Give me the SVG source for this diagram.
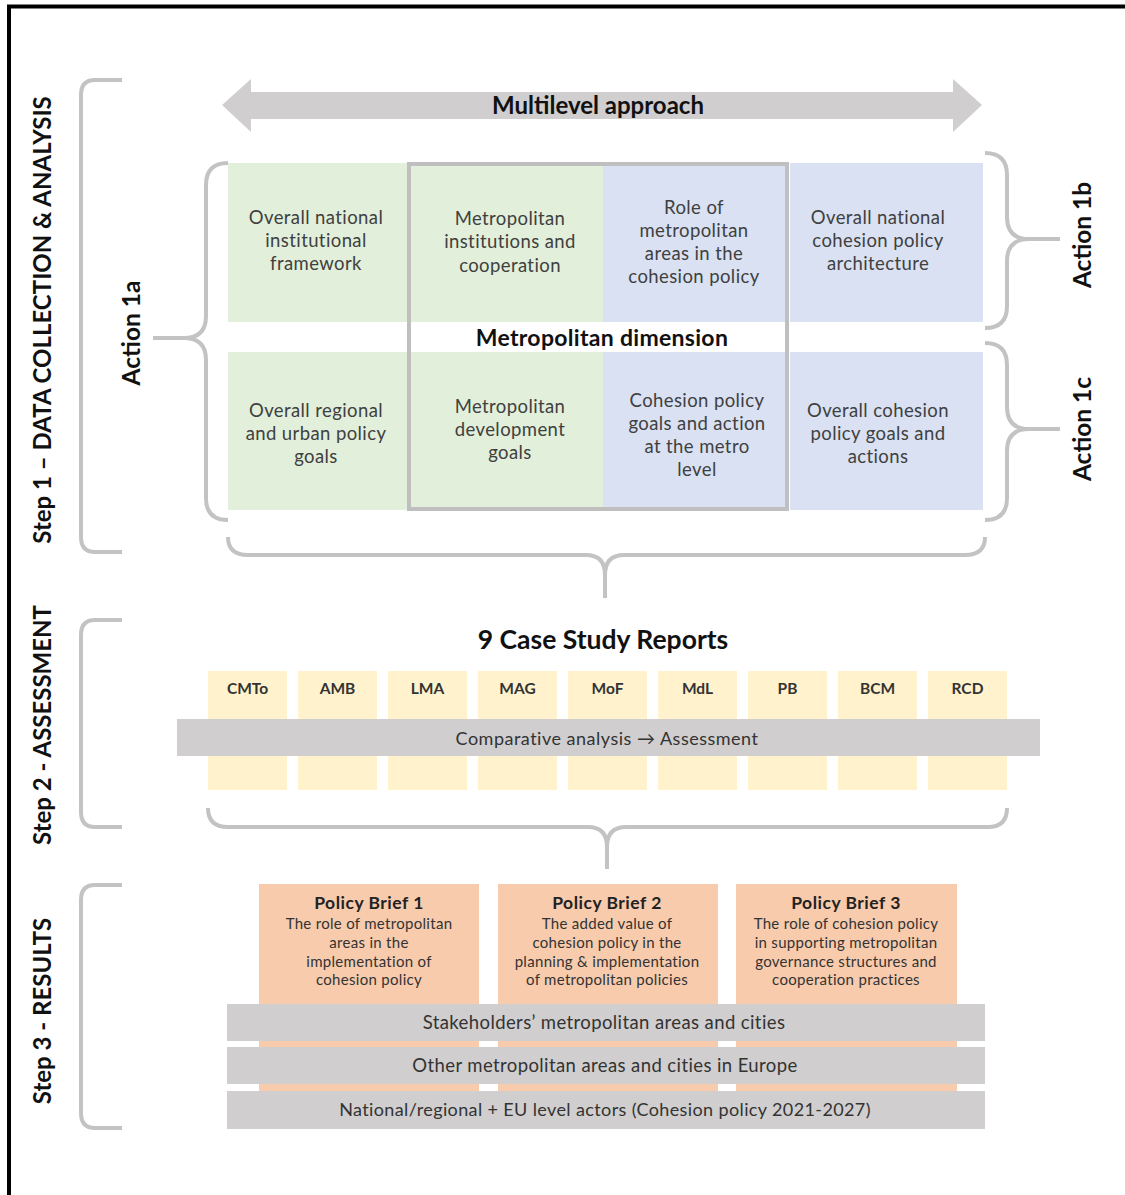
<svg xmlns="http://www.w3.org/2000/svg" width="1125" height="1195" viewBox="0 0 1125 1195">
<style>
text{font-family:Lato,"Liberation Sans",Arial,sans-serif;}
.cell{font-size:18.5px;letter-spacing:0.4px;fill:#404040;text-anchor:middle;}
.step{font-size:24px;font-weight:bold;fill:#111;text-anchor:middle;}
.act{font-size:24.5px;font-weight:bold;fill:#111;text-anchor:middle;}
.case{font-size:15.5px;font-weight:bold;fill:#333;text-anchor:middle;}
.pbt{font-size:17.5px;letter-spacing:0.5px;font-weight:bold;fill:#222;text-anchor:middle;}
.pbs{font-size:15px;letter-spacing:0.3px;fill:#333;text-anchor:middle;}
.bar{font-size:18.5px;letter-spacing:0.4px;fill:#333;text-anchor:middle;}
.brace{fill:none;stroke:#c3c3c3;stroke-width:4;stroke-linecap:butt;}
.green{fill:#e2efda;}
.blue{fill:#d9e1f2;}
.yel{fill:#fff2cc;}
.org{fill:#f8cbad;}
.gray{fill:#d0cece;}
</style>
<rect x="0" y="0" width="1125" height="1195" fill="#ffffff"/>
<path d="M9,1200 L9,6.5 L1130,6.5" fill="none" stroke="#000" stroke-width="4"/>

<g id="connectors">
  <path class="brace" d="M122,80 L95,80 Q81,80 81,95 L81,537 Q81,552 95,552 L122,552"/>
  <path class="brace" d="M122,620 L95,620 Q81,620 81,635 L81,812 Q81,827 95,827 L122,827"/>
  <path class="brace" d="M122,885 L95,885 Q81,885 81,900 L81,1113 Q81,1128 95,1128 L122,1128"/>
  <path class="brace" d="M228,163 Q206,163 206,185 L206,316 Q206,338 184,338 L153,338 M184,338 Q206,338 206,360 L206,498 Q206,520 228,520"/>
  <path class="brace" d="M985,153 Q1007,153 1007,175 L1007,217 Q1007,239 1029,239 L1060,239 M1029,239 Q1007,239 1007,261 L1007,306 Q1007,328 985,328"/>
  <path class="brace" d="M985,343 Q1007,343 1007,365 L1007,407 Q1007,429 1029,429 L1060,429 M1029,429 Q1007,429 1007,451 L1007,498 Q1007,520 985,520"/>
  <path class="brace" d="M228,537 Q228,555 248,555 L586,555 Q605,555 605,575 L605,598 M605,575 Q605,555 624,555 L965,555 Q985,555 985,537"/>
  <path class="brace" d="M208,808 Q208,827 228,827 L588,827 Q607,827 607,847 L607,869 M607,847 Q607,827 626,827 L988,827 Q1007,827 1007,808"/>
</g>

<g id="labels">
  <text class="step" transform="translate(51,320) rotate(-90)">Step 1 – DATA COLLECTION &amp; ANALYSIS</text>
  <text class="step" transform="translate(51,725) rotate(-90)">Step 2 - ASSESSMENT</text>
  <text class="step" transform="translate(51,1011) rotate(-90)">Step 3 - RESULTS</text>
  <text class="act" transform="translate(140,333) rotate(-90)">Action 1a</text>
  <text class="act" transform="translate(1091,235) rotate(-90)">Action 1b</text>
  <text class="act" transform="translate(1091,429) rotate(-90)">Action 1c</text>
</g>

<g id="arrow-multilevel">
  <polygon class="gray" points="222,105 251,79 251,92 953,92 953,79 982,105 953,132 953,119 251,119 251,132"/>
  <text x="598" y="114" font-size="24" font-weight="bold" fill="#111" text-anchor="middle">Multilevel approach</text>
</g>

<g id="cell-national-institutional">
  <rect class="green" x="228" y="163" width="179" height="159"/>
  <text class="cell"><tspan x="316" y="224">Overall national</tspan><tspan x="316" y="247">institutional</tspan><tspan x="316" y="270">framework</tspan></text>
</g>
<g id="cell-metro-institutions">
  <rect class="green" x="407" y="163" width="196" height="159"/>
  <text class="cell"><tspan x="510" y="225">Metropolitan</tspan><tspan x="510" y="248">institutions and</tspan><tspan x="510" y="272">cooperation</tspan></text>
</g>
<g id="cell-role-metro">
  <rect class="blue" x="603" y="163" width="185" height="159"/>
  <text class="cell"><tspan x="694" y="214">Role of</tspan><tspan x="694" y="237">metropolitan</tspan><tspan x="694" y="260">areas in the</tspan><tspan x="694" y="283">cohesion policy</tspan></text>
</g>
<g id="cell-national-cohesion">
  <rect class="blue" x="790" y="163" width="193" height="159"/>
  <text class="cell"><tspan x="878" y="224">Overall national</tspan><tspan x="878" y="247">cohesion policy</tspan><tspan x="878" y="270">architecture</tspan></text>
</g>
<g id="cell-regional-urban">
  <rect class="green" x="228" y="352" width="179" height="158"/>
  <text class="cell"><tspan x="316" y="417">Overall regional</tspan><tspan x="316" y="440">and urban policy</tspan><tspan x="316" y="463">goals</tspan></text>
</g>
<g id="cell-metro-development">
  <rect class="green" x="407" y="352" width="196" height="158"/>
  <text class="cell"><tspan x="510" y="413">Metropolitan</tspan><tspan x="510" y="436">development</tspan><tspan x="510" y="459">goals</tspan></text>
</g>
<g id="cell-cohesion-metro">
  <rect class="blue" x="603" y="352" width="185" height="158"/>
  <text class="cell"><tspan x="697" y="407">Cohesion policy</tspan><tspan x="697" y="430">goals and action</tspan><tspan x="697" y="453">at the  metro</tspan><tspan x="697" y="476">level</tspan></text>
</g>
<g id="cell-cohesion-goals">
  <rect class="blue" x="790" y="352" width="193" height="158"/>
  <text class="cell"><tspan x="878" y="417">Overall cohesion</tspan><tspan x="878" y="440">policy goals and</tspan><tspan x="878" y="463">actions</tspan></text>
</g>
<g id="metropolitan-dimension">
  <rect x="409" y="164" width="378" height="345" fill="none" stroke="#bfbfbf" stroke-width="4"/>
  <text x="602" y="346" font-size="23" letter-spacing="0.3" font-weight="bold" fill="#111" text-anchor="middle">Metropolitan dimension</text>
</g>

<g id="case-studies">
  <text x="603" y="649" font-size="26.5" font-weight="bold" fill="#111" text-anchor="middle">9 Case Study Reports</text>
  <g id="case-CMTo"><rect class="yel" x="208" y="671" width="79" height="119"/><text class="case" x="247.5" y="694">CMTo</text></g>
  <g id="case-AMB"><rect class="yel" x="298" y="671" width="79" height="119"/><text class="case" x="337.5" y="694">AMB</text></g>
  <g id="case-LMA"><rect class="yel" x="388" y="671" width="79" height="119"/><text class="case" x="427.5" y="694">LMA</text></g>
  <g id="case-MAG"><rect class="yel" x="478" y="671" width="79" height="119"/><text class="case" x="517.5" y="694">MAG</text></g>
  <g id="case-MoF"><rect class="yel" x="568" y="671" width="79" height="119"/><text class="case" x="607.5" y="694">MoF</text></g>
  <g id="case-MdL"><rect class="yel" x="658" y="671" width="79" height="119"/><text class="case" x="697.5" y="694">MdL</text></g>
  <g id="case-PB"><rect class="yel" x="748" y="671" width="79" height="119"/><text class="case" x="787.5" y="694">PB</text></g>
  <g id="case-BCM"><rect class="yel" x="838" y="671" width="79" height="119"/><text class="case" x="877.5" y="694">BCM</text></g>
  <g id="case-RCD"><rect class="yel" x="928" y="671" width="79" height="119"/><text class="case" x="967.5" y="694">RCD</text></g>
</g>
<g id="comparative-analysis">
  <rect class="gray" x="177" y="719" width="863" height="37"/>
  <text x="607" y="745" font-size="18" letter-spacing="0.5" fill="#333" text-anchor="middle">Comparative analysis → Assessment</text>
</g>

<g id="policy-brief-1">
  <rect class="org" x="259" y="884" width="220" height="207"/>
  <text class="pbt" x="369" y="909">Policy Brief 1</text>
  <text class="pbs"><tspan x="369" y="929">The role of metropolitan</tspan><tspan x="369" y="948">areas in the</tspan><tspan x="369" y="967">implementation of</tspan><tspan x="369" y="985">cohesion policy</tspan></text>
</g>
<g id="policy-brief-2">
  <rect class="org" x="498" y="884" width="220" height="207"/>
  <text class="pbt" x="607" y="909">Policy Brief 2</text>
  <text class="pbs"><tspan x="607" y="929">The added value of</tspan><tspan x="607" y="948">cohesion policy in the</tspan><tspan x="607" y="967">planning &amp; implementation</tspan><tspan x="607" y="985">of metropolitan policies</tspan></text>
</g>
<g id="policy-brief-3">
  <rect class="org" x="736" y="884" width="221" height="207"/>
  <text class="pbt" x="846" y="909">Policy Brief 3</text>
  <text class="pbs"><tspan x="846" y="929">The role of cohesion policy</tspan><tspan x="846" y="948">in supporting metropolitan</tspan><tspan x="846" y="967">governance structures and</tspan><tspan x="846" y="985">cooperation practices</tspan></text>
</g>
<g id="bar-stakeholders">
  <rect class="gray" x="227" y="1004" width="758" height="37"/>
  <text class="bar" x="604" y="1029">Stakeholders’ metropolitan areas and cities</text>
</g>
<g id="bar-other">
  <rect class="gray" x="227" y="1047" width="758" height="37"/>
  <text class="bar" x="605" y="1072">Other metropolitan areas and cities in Europe</text>
</g>
<g id="bar-national">
  <rect class="gray" x="227" y="1091" width="758" height="38"/>
  <text x="605" y="1116" font-size="18" letter-spacing="0.38" fill="#333" text-anchor="middle">National/regional + EU  level actors (Cohesion policy 2021-2027)</text>
</g>
</svg>
